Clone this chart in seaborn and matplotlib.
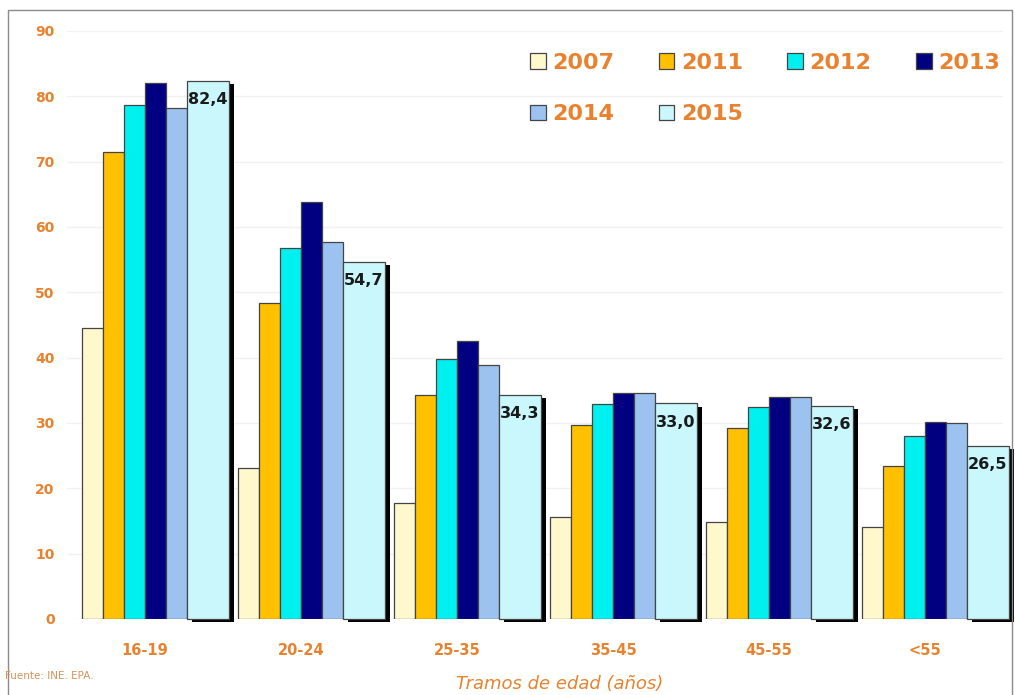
import numpy as np
import pandas as pd
import matplotlib
matplotlib.use("Agg")
import matplotlib.pyplot as plt
import matplotlib.patheffects as pe
from matplotlib.patches import Rectangle
import seaborn as sns

# Data (tasa de paro por tramos de edad)

tramos = ["16-19", "20-24", "25-35", "35-45", "45-55", "<55"]
years = ["2007", "2011", "2012", "2013", "2014", "2015"]
v2007 = [44.5, 23.1, 17.8, 15.6, 14.8, 14.1]
v2011 = [71.5, 48.4, 34.3, 29.7, 29.2, 23.4]
v2012 = [78.7, 56.8, 39.8, 32.9, 32.5, 28.0]
v2013 = [82.0, 63.8, 42.6, 34.6, 34.0, 30.2]
v2014 = [78.2, 57.7, 38.9, 34.6, 34.0, 30.0]
v2015 = [82.4, 54.7, 34.3, 33.0, 32.6, 26.5]

colors = ["#FFF8CC", "#FFC000", "#00F0F0", "#000080", "#9CC3F0", "#C9F7FC"]
orange = "#E8822F"

df = pd.concat([
    pd.DataFrame({"tramo": tramos, "valor": vals, "anio": y})
    for y, vals in zip(years, [v2007, v2011, v2012, v2013, v2014, v2015])
])

sns.set_theme(style="white")
plt.rcParams["font.family"] = ["DejaVu Sans"]

W, H = 1015, 695
fig = plt.figure(figsize=(W / 100, H / 100), dpi=100)
ax = fig.add_axes([67 / W, 76 / H, 936 / W, 588 / H])

sns.barplot(
    data=df, x="tramo", y="valor", hue="anio",
    palette=colors, saturation=1, width=0.806,
    edgecolor="#444444", linewidth=0.9, ax=ax
)

# last series is drawn twice as wide, with a dark shadow
for bar in ax.containers[-1]:
    bar.set_width(bar.get_width() * 2)
    bar.set_clip_on(False)
    bar.set_path_effects([
        pe.SimplePatchShadow(offset=(3.5, -2.5), shadow_rgbFace="black", alpha=1),
        pe.Normal(),
    ])

for bar, v in zip(ax.containers[-1], v2015):
    ax.annotate(
        f"{v:.1f}".replace(".", ","),
        (bar.get_x() + bar.get_width() / 2, v),
        xytext=(0, -8), textcoords="offset points",
        ha="center", va="top", fontsize=11.5, fontweight="bold",
        color="#1a1a1a", annotation_clip=False
    )

ax.set_ylim(0, 90)
ax.set_xlim(-0.5, 5.5)
ax.set_yticks(range(0, 91, 10))
ax.yaxis.grid(True, color="#f1f1f1", lw=1)
ax.set_axisbelow(True)
sns.despine(ax=ax, left=True, bottom=True)
ax.set_xlabel("")
ax.set_ylabel("")

ax.tick_params(axis="y", length=0, pad=9, labelsize=10, labelcolor=orange)
ax.tick_params(axis="x", length=0, pad=17, labelsize=10.5, labelcolor=orange)
for lbl in ax.get_yticklabels() + ax.get_xticklabels():
    lbl.set_fontweight("bold")

# Legend (row-major order in 4 columns)

handles, labels = ax.get_legend_handles_labels()
order = [0, 4, 1, 5, 2, 3]
ax.legend(
    [handles[i] for i in order], [labels[i] for i in order],
    ncol=4, loc="upper left", bbox_to_anchor=(510 / W, 1 - 33 / H),
    bbox_transform=fig.transFigure, frameon=False,
    prop={"weight": "bold", "size": 16}, labelcolor=orange,
    handlelength=0.7, handleheight=0.7, handletextpad=0.3,
    columnspacing=2.0, labelspacing=1.4
)

fig.text(560 / W, 1 - 684 / H, "Tramos de edad (años)", ha="center", va="center",
         fontsize=13, style="italic", color=orange)
fig.text(5 / W, 1 - 676 / H, "Fuente: INE. EPA.", ha="left", va="center",
         fontsize=7.5, color="#D8935C")

fig.patches.append(Rectangle((8 / W, -0.01), 1004 / W, 1.01 - 10 / H,
                             transform=fig.transFigure, fill=False,
                             ec="#8a8a8a", lw=1))

fig.savefig("out.png", dpi=100)
plt.close()
